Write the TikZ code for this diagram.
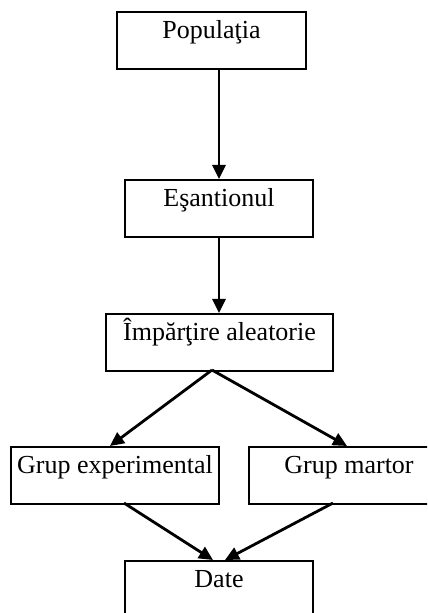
\documentclass[tikz,border=0pt]{standalone}
\usepackage{fontspec}
\setmainfont{Liberation Serif}
\usetikzlibrary{arrows.meta}

\begin{document}
\begin{tikzpicture}[x=0.5pt,y=-0.5pt,
  box/.style={draw,line width=0.8pt,rectangle,anchor=north,inner sep=0pt,
    text height=13.5pt,text depth=15pt,font=\fontsize{13}{15}\selectfont},
  arr/.style={line width=1.4pt,-{Triangle[length=7pt,width=6.5pt]}}]
 \clip (0,0) rectangle (427,613);

 \node[box,minimum width=94.5pt] (pop) at (211.5,11) {Populaţia};
 \node[box,minimum width=94pt] (esa) at (219,179) {Eşantionul};
 \node[box,minimum width=113.5pt] (imp) at (219.5,313) {Împărţire aleatorie};
 \node[box,minimum width=104pt] (exp) at (115,446) {Grup experimental};
 \node[box,minimum width=100pt] (mar) at (349,446) {Grup martor};
 \node[box,minimum width=94pt] (date) at (219,560) {Date};

% split and join points
 \coordinate (split) at (212,370);
 \coordinate (expin) at (110,446);
 \coordinate (marin) at (347,446);
 \coordinate (expout) at (124,503);
 \coordinate (marout) at (333,503);
 \coordinate (datein1) at (213,560);
 \coordinate (datein2) at (225,560);

 \draw [arr] (pop.south -| esa.north) to (esa.north);
 \draw [arr] (esa.south) to (imp.north -| esa.south);
 \draw [arr] (split) to (expin);
 \draw [arr] (split) to (marin);
 \draw [arr] (expout) to (datein1);
 \draw [arr] (marout) to (datein2);
\end{tikzpicture}
\end{document}
